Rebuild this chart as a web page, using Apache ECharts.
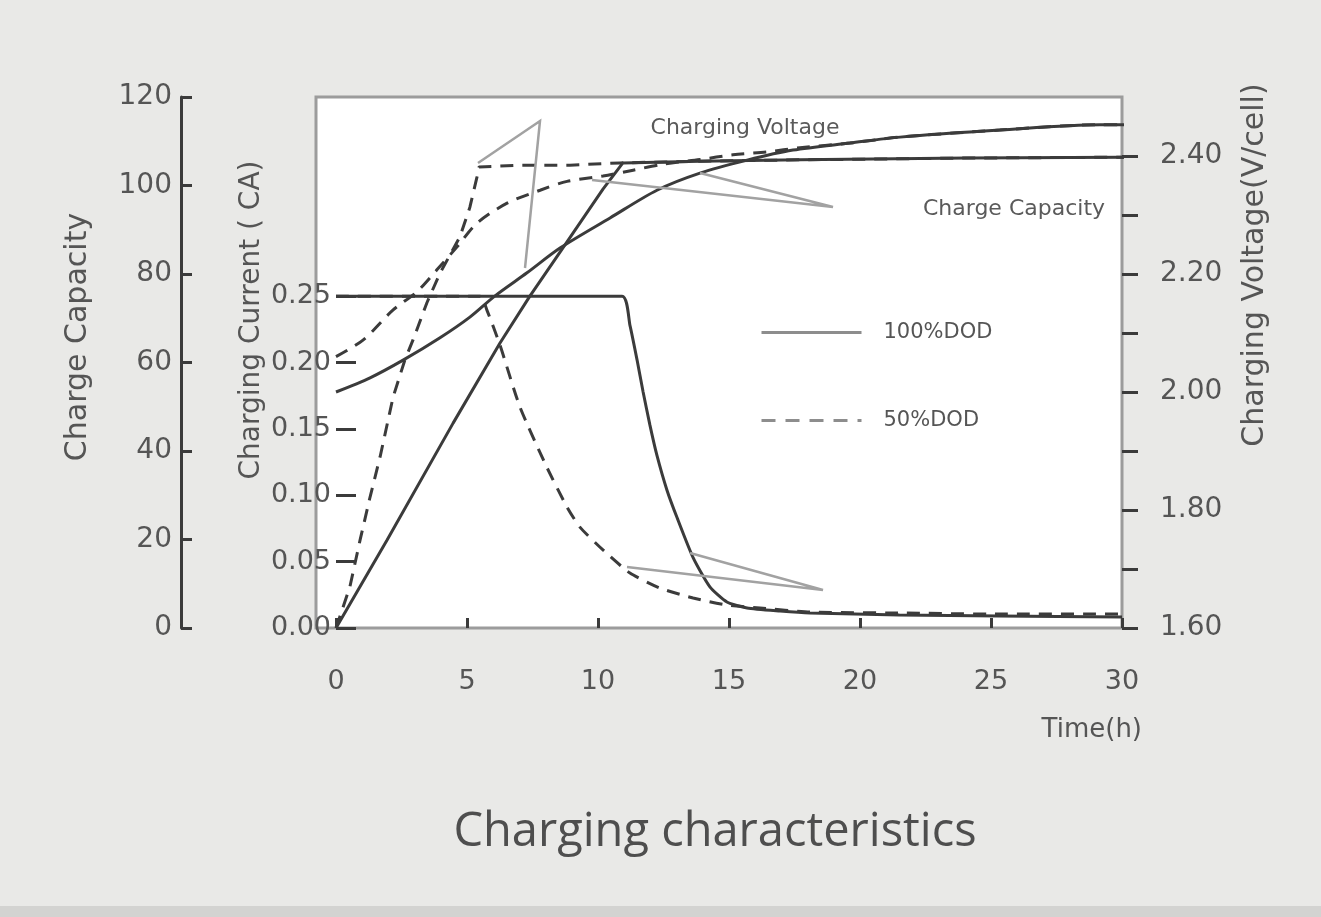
<!DOCTYPE html>
<html>
<head>
<meta charset="utf-8">
<script src="https://cdn.jsdelivr.net/npm/echarts@6/dist/echarts.min.js"></script>
<style>
html,body{margin:0;padding:0;background:#e9e9e7;}
#chart{width:1321px;height:917px;}
</style>
</head>
<body>
<div id="chart"></div>
<script>
// ---- data (time in h) ----
const xTicks = [0, 5, 10, 15, 20, 25, 30];
const capacityTicks = [0, 20, 40, 60, 80, 100, 120];
const currentTicks = [0, 0.05, 0.10, 0.15, 0.20, 0.25];
const voltageTicks = [1.6, 1.7, 1.8, 1.9, 2.0, 2.1, 2.2, 2.3, 2.4];
const voltageLabels = [1.6, 1.8, 2.0, 2.2, 2.4];

// Charging current (CA)
const current100 = [[0,0.25],[10.92,0.25],[11.22,0.228],[11.49,0.202],[11.72,0.178],[11.98,0.153],[12.25,0.130],[12.63,0.104],[13.02,0.083],[13.63,0.053],[14.27,0.031],[14.92,0.0196],[15.69,0.0151],[16.95,0.0128],[18.09,0.0113],[21.5,0.0098],[25.3,0.009],[30,0.0083]];
const current50 = [[0,0.25],[5.5,0.25],[5.76,0.2395],[6.26,0.213],[7.02,0.1665],[8.05,0.121],[8.82,0.091],[9.31,0.076],[10.19,0.0588],[11.22,0.0414],[12.37,0.030],[13.63,0.0226],[14.92,0.0173],[16.18,0.0151],[18.09,0.012],[21.5,0.0113],[25.3,0.0105],[30,0.0105],[30.57,0.0105]];
// Charge capacity (%)
const capacity100 = [[0,0],[1.95,19.9],[4.47,46.3],[6.26,64.4],[7.40,75.0],[8.74,86.6],[10.19,99.2],[10.95,105.1],[13.89,105.5],[17.7,105.8],[24.1,106.2],[30,106.4],[30.57,106.4]];
const capacity50 = [[0,0],[0.53,9.3],[0.92,19.9],[1.30,29.6],[1.68,38.6],[2.18,52.2],[2.63,60.6],[2.94,65.1],[3.47,73.5],[3.97,80.2],[4.73,88.4],[5.11,95.1],[5.38,101.9],[5.46,104.2],[7.02,104.6],[8.93,104.6],[10.84,105.1],[13.89,105.5],[17.7,105.8],[24.1,106.2],[30,106.4],[30.57,106.4]];
// Charging voltage (V/cell)
const voltage100 = [[0,2.0],[1.30,2.024],[2.56,2.054],[3.97,2.092],[5.11,2.127],[6.07,2.163],[7.29,2.202],[8.55,2.244],[10.46,2.295],[12.25,2.342],[13.89,2.371],[15.69,2.393],[17.44,2.410],[19.62,2.422],[21.53,2.432],[25.34,2.444],[29.16,2.453],[30,2.453],[30.57,2.454]];
const voltage50 = [[0,2.06],[1.03,2.088],[2.18,2.139],[3.09,2.170],[3.85,2.207],[4.62,2.246],[5.38,2.286],[6.53,2.320],[7.79,2.342],[8.82,2.357],[10.19,2.366],[11.34,2.376],[12.48,2.386],[13.89,2.394],[15.15,2.402],[16.45,2.407],[17.71,2.414],[19.62,2.422],[21.53,2.432],[25.34,2.444],[29.16,2.453],[30,2.453],[30.57,2.454]];

const seriesNames = ['100%DOD', '50%DOD'];

// ---- styling ----
const FONT = 'DejaVu Sans';
const INK = '#3b3b3b';
const TXT = '#555555';
const GRAYLINE = '#a2a2a2';
const DASH = [13, 9];

const chart = echarts.init(document.getElementById('chart'), null, {renderer: 'canvas'});

function lineSeries(name, data, yIdx, dashed, smooth) {
  return {
    name: name, type: 'line', xAxisIndex: 0, yAxisIndex: yIdx, data: data,
    symbol: 'none', smooth: smooth || false, clip: false, z: 3,
    lineStyle: {color: INK, width: 3, type: dashed ? DASH : 'solid'},
    emphasis: {disabled: true}
  };
}

const option = {
  animation: false,
  backgroundColor: '#e9e9e7',
  title: {
    text: 'Charging characteristics', left: 710, top: 804, textAlign: 'center',
    textStyle: {fontFamily: 'Open Sans', fontSize: 47, fontWeight: 'normal', color: '#4e4e4e'}
  },
  legend: {
    orient: 'vertical', left: 755, top: 317, itemWidth: 100, itemHeight: 20, itemGap: 67,
    selectedMode: false,
    itemStyle: {opacity: 0},
    textStyle: {fontFamily: FONT, fontSize: 21, color: TXT, padding: [0, 0, 0, 17]},
    data: [
      {name: seriesNames[0], lineStyle: {color: '#8d8d8d', width: 3, type: 'solid'}},
      {name: seriesNames[1], lineStyle: {color: '#8d8d8d', width: 3, type: [14, 10]}}
    ]
  },
  grid: [
    {left: 336, right: 199, top: 97, bottom: 289, show: false},
    {left: 316, right: 199, top: 97, bottom: 289, show: true, backgroundColor: '#ffffff', borderColor: '#9c9c9c', borderWidth: 3}
  ],
  xAxis: [
    {
      gridIndex: 0, type: 'value', min: xTicks[0], max: xTicks[xTicks.length - 1], interval: 5,
      axisLine: {show: false, onZero: false},
      axisTick: {show: true, inside: true, length: 10, lineStyle: {color: INK, width: 3}},
      axisLabel: {margin: 40, fontFamily: FONT, fontSize: 27, color: TXT},
      splitLine: {show: false}
    },
    {gridIndex: 1, type: 'value', show: false, min: 0, max: 1}
  ],
  yAxis: [
    {
      gridIndex: 0, type: 'value', position: 'left', offset: 155,
      min: capacityTicks[0], max: capacityTicks[capacityTicks.length - 1], interval: 20,
      axisLine: {show: true, onZero: false, lineStyle: {color: INK, width: 3}},
      axisTick: {show: true, inside: true, length: 11, lineStyle: {color: INK, width: 3}},
      axisLabel: {margin: 9, fontFamily: FONT, fontSize: 28, color: TXT},
      splitLine: {show: false}
    },
    {
      gridIndex: 0, type: 'value', position: 'left', offset: 0,
      min: 0, max: 0.4, interval: 0.05,
      axisLine: {show: false, onZero: false},
      axisTick: {show: true, inside: true, length: 20, lineStyle: {color: INK, width: 3}, customValues: currentTicks},
      axisLabel: {margin: 5, fontFamily: FONT, fontSize: 27, color: TXT, customValues: currentTicks,
        formatter: v => (v > 0.26 ? '' : v.toFixed(2))},
      splitLine: {show: false}
    },
    {
      gridIndex: 0, type: 'value', position: 'right', offset: 0,
      min: 1.6, max: 2.5, interval: 0.1,
      axisLine: {show: false, onZero: false},
      axisTick: {show: true, inside: false, length: 16, lineStyle: {color: INK, width: 3}, customValues: voltageTicks},
      axisLabel: {margin: 38, fontFamily: FONT, fontSize: 28, color: TXT, customValues: voltageLabels,
        formatter: v => v.toFixed(2)},
      splitLine: {show: false}
    },
    {gridIndex: 1, type: 'value', show: false, min: 0, max: 1}
  ],
  series: [
    lineSeries(seriesNames[0], current100, 1, false, 0.2),
    lineSeries(seriesNames[1], current50, 1, true, 0.2),
    lineSeries(seriesNames[0], capacity100, 0, false, false),
    lineSeries(seriesNames[1], capacity50, 0, true, false),
    lineSeries(seriesNames[0], voltage100, 2, false, 0.3),
    lineSeries(seriesNames[1], voltage50, 2, true, 0.3)
  ],
  graphic: [
    {type: 'rect', shape: {x: 0, y: 906, width: 1321, height: 11}, style: {fill: '#d3d3d1'}, silent: true, z: -1},
    // axis titles
    {type: 'text', x: 78, y: 337, rotation: Math.PI / 2,
      style: {text: 'Charge Capacity', fontFamily: FONT, fontSize: 30, fill: TXT, align: 'center', verticalAlign: 'middle'}},
    {type: 'text', x: 252, y: 320, rotation: Math.PI / 2,
      style: {text: 'Charging Current ( CA)', fontFamily: FONT, fontSize: 28, fill: TXT, align: 'center', verticalAlign: 'middle'}},
    {type: 'text', x: 1255, y: 265, rotation: Math.PI / 2,
      style: {text: 'Charging Voltage(V/cell)', fontFamily: FONT, fontSize: 30, fill: TXT, align: 'center', verticalAlign: 'middle'}},
    {type: 'text', x: 1142, y: 730,
      style: {text: 'Time(h)', fontFamily: FONT, fontSize: 26, fill: TXT, align: 'right', verticalAlign: 'middle'}},
    // in-plot annotations
    {type: 'text', x: 745, y: 128, z: 5,
      style: {text: 'Charging Voltage', fontFamily: FONT, fontSize: 22, fill: '#5a5a5a', align: 'center', verticalAlign: 'middle'}},
    {type: 'text', x: 1014, y: 209, z: 5,
      style: {text: 'Charge Capacity', fontFamily: FONT, fontSize: 22, fill: '#5a5a5a', align: 'center', verticalAlign: 'middle'}},
    {type: 'polyline', z: 4, shape: {points: [[478, 163], [540, 121], [525, 268]]}, style: {stroke: GRAYLINE, lineWidth: 2.5, fill: null}},
    {type: 'polyline', z: 4, shape: {points: [[592, 180], [833, 207], [700, 173]]}, style: {stroke: GRAYLINE, lineWidth: 2.5, fill: null}},
    {type: 'polyline', z: 4, shape: {points: [[627, 567], [823, 590], [690, 553]]}, style: {stroke: GRAYLINE, lineWidth: 2.5, fill: null}}
  ]
};

chart.setOption(option);
</script>
</body>
</html>
